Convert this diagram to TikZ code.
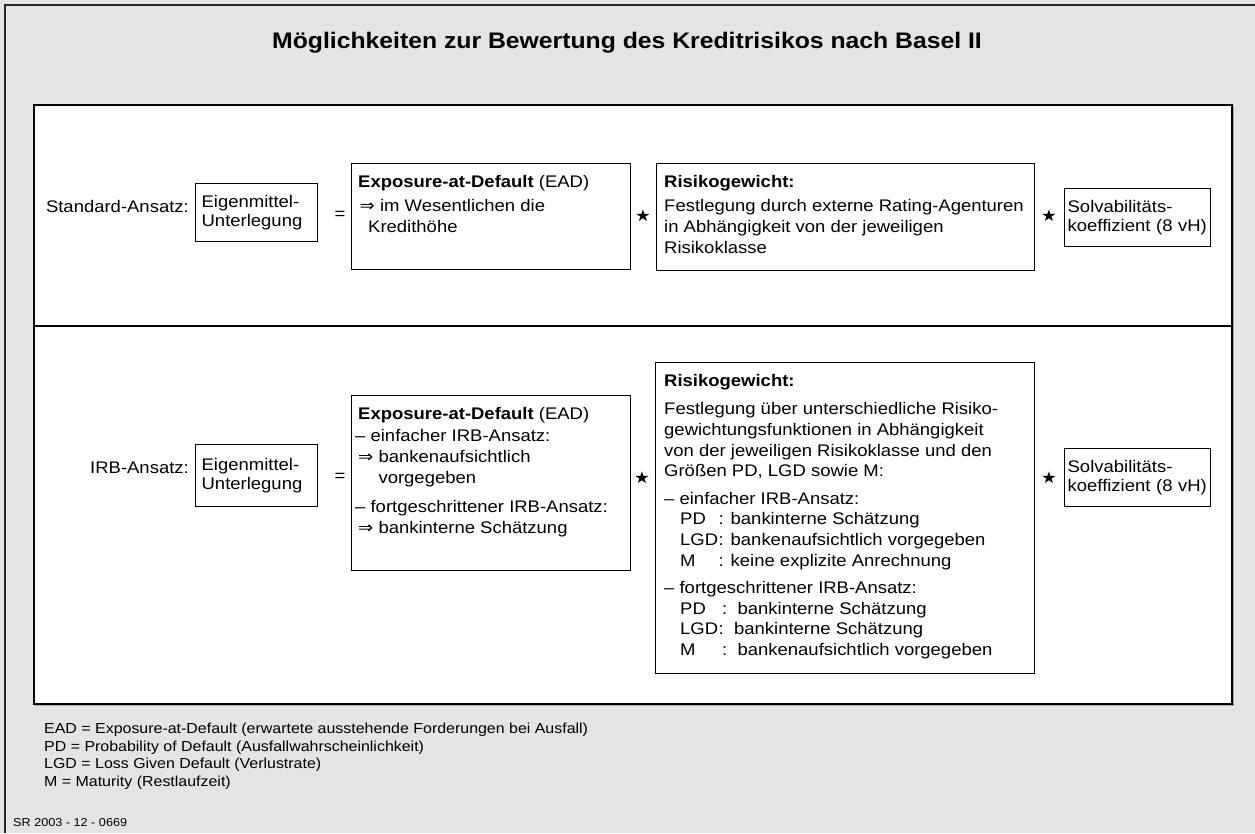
\documentclass[tikz,border=0pt]{standalone}
\usepackage{fontspec}
\setmainfont[FakeStretch=1.1]{Liberation Sans}
\newfontfamily\symfont[FakeStretch=1.1]{DejaVu Sans}
\definecolor{bggray}{RGB}{228,228,228}
\newcommand{\imparr}{{\symfont\fontsize{16.5}{16.5}\selectfont ⇒}}
\begin{document}
\begin{tikzpicture}[x=1pt,y=-1pt,
  box/.style={draw=black, line width=1.3pt, fill=white, inner sep=0pt, anchor=north west},
  smallbox/.style={box, inner xsep=3pt, align=left, font=\fontsize{16.8}{19.5}\selectfont},
  txt/.style={anchor=north west, inner sep=0pt, align=left, font=\fontsize{16.8}{21}\selectfont},
  lbl/.style={font=\fontsize{16.8}{21}\selectfont, inner sep=0pt},
  starsym/.style={font=\symfont\fontsize{16}{16}\selectfont, inner sep=0pt},
  note/.style={anchor=north west, inner sep=0pt, align=left, font=\fontsize{14.5}{17.5}\selectfont}]
% background and outer frame
\fill[bggray] (0,0) rectangle (1255,833);
\useasboundingbox (0,0) rectangle (1255,833);
\draw[line width=2pt, black!85] (5,833) -- (5,5) -- (1255,5);
% title
\node[font=\bfseries\fontsize{22.5}{26}\selectfont, inner sep=0pt] (title) at (627,43) {Möglichkeiten zur Bewertung des Kreditrisikos nach Basel II};
% panel
\draw[gray!70, line width=1pt] (35,705) -- (1233,705) -- (1233,106);
\node[box, line width=1.7pt, minimum width=1198pt, minimum height=599pt] (panel) at (33,104) {};
\coordinate (divl) at (33,326);
\coordinate (divr) at (1231,326);
\draw[line width=1.3pt] (divl) -- (divr);

% ---------- Standard-Ansatz ----------
\node[lbl, anchor=east] (sa) at (189,206) {Standard-Ansatz:};
\node[smallbox, minimum width=122pt, minimum height=58pt, text width=110pt] (em1) at (195,183) {Eigenmittel-\\Unterlegung};
\node[lbl] (eq1) at (340,215) {=};
\node[box, minimum width=279pt, minimum height=106pt] (ead1) at (351,163) {};
\node[txt] (ead1t) at ([xshift=7pt, yshift=-12pt]ead1.north west)
  {\textbf{Exposure-at-Default} (EAD)\\[3pt]
   \hspace*{1.5pt}\imparr\ im Wesentlichen die\\
   \hspace*{10pt}Kredithöhe};
\node[starsym] (s11) at (643,216) {★};
\node[box, minimum width=378pt, minimum height=107pt] (rg1) at (656,163) {};
\node[txt] (rg1t) at ([xshift=8pt, yshift=-12pt]rg1.north west)
  {\textbf{Risikogewicht:}\\[3pt]
   Festlegung durch externe Rating-Agenturen\\
   in Abhängigkeit von der jeweiligen\\
   Risikoklasse};
\node[starsym] (s12) at (1049,216) {★};
\node[smallbox, minimum width=146pt, minimum height=58pt, text width=140pt] (sv1) at (1064,188) {Solvabilitäts-\\koeffizient (8 vH)};

% ---------- IRB-Ansatz ----------
\node[lbl, anchor=east] (ia) at (189,468) {IRB-Ansatz:};
\node[smallbox, minimum width=122pt, minimum height=62pt, text width=110pt] (em2) at (195,444) {Eigenmittel-\\Unterlegung};
\node[lbl] (eq2) at (340,477) {=};
\node[box, minimum width=279pt, minimum height=175pt] (ead2) at (351,395) {};
\node[txt] (ead2t) at ([xshift=7pt, yshift=-12pt]ead2.north west)
  {\textbf{Exposure-at-Default} (EAD)\\[1pt]
   \hspace*{-3pt}– einfacher IRB-Ansatz:\\
   \imparr\ bankenaufsichtlich\\
   \phantom{\imparr\ }vorgegeben\\[8pt]
   \hspace*{-3pt}– fortgeschrittener IRB-Ansatz:\\
   \imparr\ bankinterne Schätzung};
\node[starsym] (s21) at (642,478) {★};
\node[box, minimum width=379pt, minimum height=311pt] (rg2) at (655,362) {};
\node[txt, font=\fontsize{16.8}{20.6}\selectfont] (rg2t) at ([xshift=9pt, yshift=-12pt]rg2.north west)
  {\textbf{Risikogewicht:}\\[8pt]
   Festlegung über unterschiedliche Risiko-\\
   gewichtungsfunktionen in Abhängigkeit\\
   von der jeweiligen Risikoklasse und den\\
   Größen PD, LGD sowie M:\\[7pt]
   – einfacher IRB-Ansatz:\\
   \hspace*{16pt}\makebox[38.5pt][l]{PD}: bankinterne Schätzung\\
   \hspace*{16pt}\makebox[38.5pt][l]{LGD}: bankenaufsichtlich vorgegeben\\
   \hspace*{16pt}\makebox[38.5pt][l]{M}: keine explizite Anrechnung\\[7pt]
   – fortgeschrittener IRB-Ansatz:\\
   \hspace*{16pt}\makebox[42pt][l]{PD}:\ \ bankinterne Schätzung\\
   \hspace*{16pt}\makebox[38.5pt][l]{LGD}:\ \ bankinterne Schätzung\\
   \hspace*{16pt}\makebox[42pt][l]{M}:\ \ bankenaufsichtlich vorgegeben};
\node[starsym] (s22) at (1049,478) {★};
\node[smallbox, minimum width=146pt, minimum height=58pt, text width=140pt] (sv2) at (1064,448) {Solvabilitäts-\\koeffizient (8 vH)};

% ---------- footnotes ----------
\node[note] (fn) at (44,723)
  {EAD = Exposure-at-Default (erwartete ausstehende Forderungen bei Ausfall)\\
   PD = Probability of Default (Ausfallwahrscheinlichkeit)\\
   LGD = Loss Given Default (Verlustrate)\\
   M = Maturity (Restlaufzeit)};
\node[anchor=west, inner sep=0pt, font=\fontsize{11.5}{14}\selectfont] (sr) at (13,823) {SR 2003 - 12 - 0669};
\end{tikzpicture}
\end{document}
